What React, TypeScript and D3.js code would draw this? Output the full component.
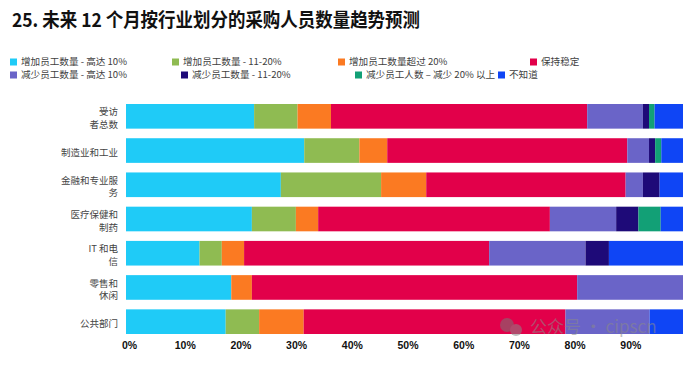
import React from 'react'
import * as d3 from 'd3'

const categories = ['受访者总数', '制造业和工业', '金融和专业服务', '医疗保健和制药', 'IT 和电信', '零售和休闲', '公共部门']
const labelLines = [
  ['受访', '者总数'],
  ['制造业和工业'],
  ['金融和专业服', '务'],
  ['医疗保健和', '制药'],
  ['IT 和电', '信'],
  ['零售和', '休闲'],
  ['公共部门']
]

const seriesNames = [
  '增加员工数量 - 高达 10%',
  '增加员工数量 - 11-20%',
  '增加员工数量超过 20%',
  '保持稳定',
  '减少员工数量 - 高达 10%',
  '减少员工数量 - 11-20%',
  '减少员工人数 – 减少 20% 以上',
  '不知道'
]

// one array per series, in category order
const incUpTo10 = [23.0, 32.0, 27.8, 22.6, 13.2, 18.9, 17.9]
const inc11to20 = [7.8, 9.9, 18.0, 7.9, 4.0, 0, 6.0]
const incOver20 = [6.0, 5.0, 8.1, 4.0, 4.0, 3.7, 8.0]
const stable = [46.0, 43.1, 35.8, 41.6, 44.0, 58.4, 47.0]
const decUpTo10 = [10.0, 3.9, 3.1, 11.9, 17.3, 19.0, 15.1]
const dec11to20 = [1.1, 1.1, 3.0, 4.0, 4.2, 0, 0]
const decOver20 = [1.0, 1.1, 0, 4.0, 0, 0, 0]
const dontKnow = [5.1, 3.9, 4.2, 4.0, 13.3, 0, 6.0]

const xTicks = [0, 10, 20, 30, 40, 50, 60, 70, 80, 90]

const colors = ['#1fcbf7', '#8fbb52', '#fb7a22', '#e2004a', '#6a64c8', '#1e0a78', '#12a076', '#0f45f5']

const W = 686
const H = 369
const FONT = '"Liberation Sans", Arial, "Noto Sans CJK SC", sans-serif'
const CJK = '"Noto Sans CJK SC", "Liberation Sans", sans-serif'

// legend slot x positions (two rows of four)
const legendX = [
  [10, 172, 338, 530],
  [10, 181, 355, 498]
]

export default function App() {
  const axisRef = React.useRef<SVGGElement>(null)

  const x = d3.scaleLinear().domain([0, 100]).range([126, 683])
  const y = d3.scaleBand<string>().domain(categories).range([104, 334]).paddingInner(0.28)

  const table = categories.map((c, i) => ({
    cat: c,
    s0: incUpTo10[i], s1: inc11to20[i], s2: incOver20[i], s3: stable[i],
    s4: decUpTo10[i], s5: dec11to20[i], s6: decOver20[i], s7: dontKnow[i]
  }))
  const keys = ['s0', 's1', 's2', 's3', 's4', 's5', 's6', 's7']
  const stacked = d3.stack<any>().keys(keys)(table)

  React.useEffect(() => {
    const axis = d3
      .axisBottom(x)
      .tickValues(xTicks)
      .tickFormat(d => d + '%')
      .tickSize(0)
      .tickPadding(4)
    const g = d3.select(axisRef.current)
    g.call(axis as any)
    g.select('.domain').remove()
    g.selectAll('text')
      .attr('dx', 3)
      .attr('font-family', FONT)
      .attr('font-size', 10.5)
      .attr('font-weight', 'bold')
      .attr('fill', '#111')
  }, [])

  return (
    <svg width={W} height={H} style={{ position: 'absolute', left: 0, top: 0, background: '#fff' }}>
      <text x={12} y={27} fontFamily={CJK} fontWeight="bold" fontSize={19} fill="#111" textLength={408} lengthAdjust="spacingAndGlyphs">
        25. 未来 12 个月按行业划分的采购人员数量趋势预测
      </text>

      {seriesNames.map((name, i) => {
        const row = i < 4 ? 0 : 1
        const lx = legendX[row][i % 4]
        const ly = row === 0 ? 62 : 75
        return (
          <g key={name}>
            <rect x={lx} y={ly - 3.5} width={7} height={7} fill={colors[i]} />
            <text x={lx + 11} y={ly} dy="0.35em" fontFamily={CJK} fontSize={9.6} fill="#404040">
              {name}
            </text>
          </g>
        )
      })}

      {stacked.map((layer, si) => (
        <g key={si} fill={colors[si]}>
          {layer.map((d: any) => {
            const w = x(d[1]) - x(d[0])
            if (w <= 0) return null
            return (
              <rect
                key={d.data.cat}
                x={x(d[0])}
                y={y(d.data.cat)}
                width={w}
                height={y.bandwidth()}
              />
            )
          })}
        </g>
      ))}

      {categories.map((c, i) => {
        const lines = labelLines[i]
        const cy = (y(c) as number) + y.bandwidth() / 2 + 2
        const lh = 12.5
        return (
          <text key={c} fontFamily={CJK} fontSize={9.5} fill="#444" textAnchor="end">
            {lines.map((ln, j) => (
              <tspan key={j} x={118} y={cy + (j - (lines.length - 1) / 2) * lh} dy="0.35em">
                {ln}
              </tspan>
            ))}
          </text>
        )
      })}

      <g ref={axisRef} transform="translate(0, 338)" />

      <g opacity={0.55}>
        <circle cx={507} cy={325} r={7} fill="#777" />
        <circle cx={516} cy={330} r={6} fill="#888" />
        <text x={530} y={333} fontFamily={CJK} fontSize={17} fill="#8a8a8a">
          公众号 · cipscn
        </text>
      </g>
    </svg>
  )
}
